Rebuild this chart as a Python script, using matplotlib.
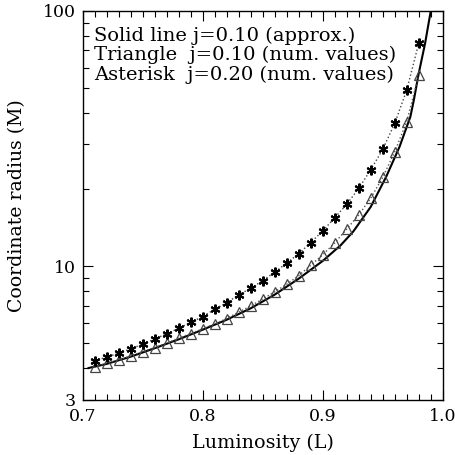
import matplotlib
matplotlib.use("Agg")
import matplotlib.pyplot as plt
from matplotlib.ticker import FixedLocator, NullFormatter

plt.rcParams['font.family'] = ['DejaVu Serif']

# DATA
lum_pts = [0.71, 0.72, 0.73, 0.74, 0.75, 0.76, 0.77, 0.78, 0.79, 0.80,
           0.81, 0.82, 0.83, 0.84, 0.85, 0.86, 0.87, 0.88, 0.89, 0.90,
           0.91, 0.92, 0.93, 0.94, 0.95, 0.96, 0.97, 0.98]

# asterisk: j=0.20 (num. values)
r_j020 = [4.28, 4.41, 4.57, 4.75, 4.96, 5.19, 5.45, 5.72, 6.03, 6.36,
          6.79, 7.21, 7.73, 8.21, 8.79, 9.48, 10.3, 11.2, 12.4, 13.75,
          15.5, 17.5, 20.2, 23.9, 28.7, 36.3, 49.0, 74.8]

# triangle: j=0.10 (num. values)
r_j010 = [4.03, 4.18, 4.30, 4.46, 4.64, 4.81, 5.00, 5.23, 5.45, 5.70,
          5.95, 6.25, 6.62, 7.00, 7.45, 7.95, 8.50, 9.20, 10.1, 11.1,
          12.35, 14.0, 15.9, 18.5, 22.3, 28.1, 36.9, 56.1]

# solid line: j=0.10 (approx.)
lum_line = [0.705, 0.72, 0.74, 0.76, 0.78, 0.80, 0.82, 0.84, 0.86, 0.88,
            0.90, 0.915, 0.9255, 0.94, 0.953, 0.964, 0.973, 0.976, 0.9797,
            0.9853, 0.990]
r_line = [4.00, 4.15, 4.43, 4.78, 5.18, 5.65, 6.18, 6.85, 7.75, 8.95,
          10.5, 12.1, 13.7, 17.1, 22.5, 29.4, 38.5, 45.0, 56.1,
          74.8, 100.0]

legend_lines = ["Solid line j=0.10 (approx.)",
                "Triangle  j=0.10 (num. values)",
                "Asterisk  j=0.20 (num. values)"]

# FIGURA
fig = plt.figure(figsize=(4.56, 4.55), dpi=100)
ax = fig.add_axes([0.181, 0.121, 0.790, 0.855])

ax.plot(lum_line, r_line, color="black", linewidth=1.5)
ax.plot(lum_pts, r_j010, color="#555555", linestyle=":", linewidth=1.0,
        marker="^", markersize=7, markerfacecolor="none",
        markeredgecolor="#444444", markeredgewidth=0.9)
ax.plot(lum_pts, r_j020, color="#444444", linestyle=":", linewidth=1.0,
        marker=(6, 2, 0), markersize=7, markeredgecolor="black",
        markeredgewidth=1.5)

ax.set_yscale("log")
ax.set_xlim(0.7, 1.0)
ax.set_ylim(3, 100)

ax.set_xticks([0.7, 0.8, 0.9, 1.0])
ax.set_xticklabels(["0.7", "0.8", "0.9", "1.0"])
ax.xaxis.set_minor_locator(FixedLocator([0.7 + 0.01 * i for i in range(31)]))

ax.yaxis.set_major_locator(FixedLocator([3, 10, 100]))
ax.set_yticklabels(["3", "10", "100"])
ax.yaxis.set_minor_locator(FixedLocator([4, 5, 6, 7, 8, 9, 20, 30, 40, 50, 60, 70, 80, 90]))
ax.yaxis.set_minor_formatter(NullFormatter())

ax.tick_params(which="both", direction="in", top=True, right=True,
               labelsize=12.5, width=0.8)
ax.tick_params(axis="x", pad=6)
ax.tick_params(axis="y", pad=5)
ax.tick_params(which="major", length=7)
ax.tick_params(which="minor", length=4)
for s in ax.spines.values():
    s.set_linewidth(1.0)

ax.set_xlabel("Luminosity (L)", fontsize=13.8, labelpad=6)
ax.set_ylabel("Coordinate radius (M)", fontsize=13.6, labelpad=12)

ax.text(0.031, 0.960, "\n".join(legend_lines), transform=ax.transAxes,
        fontsize=14, va="top", ha="left", linespacing=1.08)

fig.savefig("out.png", dpi=100)
